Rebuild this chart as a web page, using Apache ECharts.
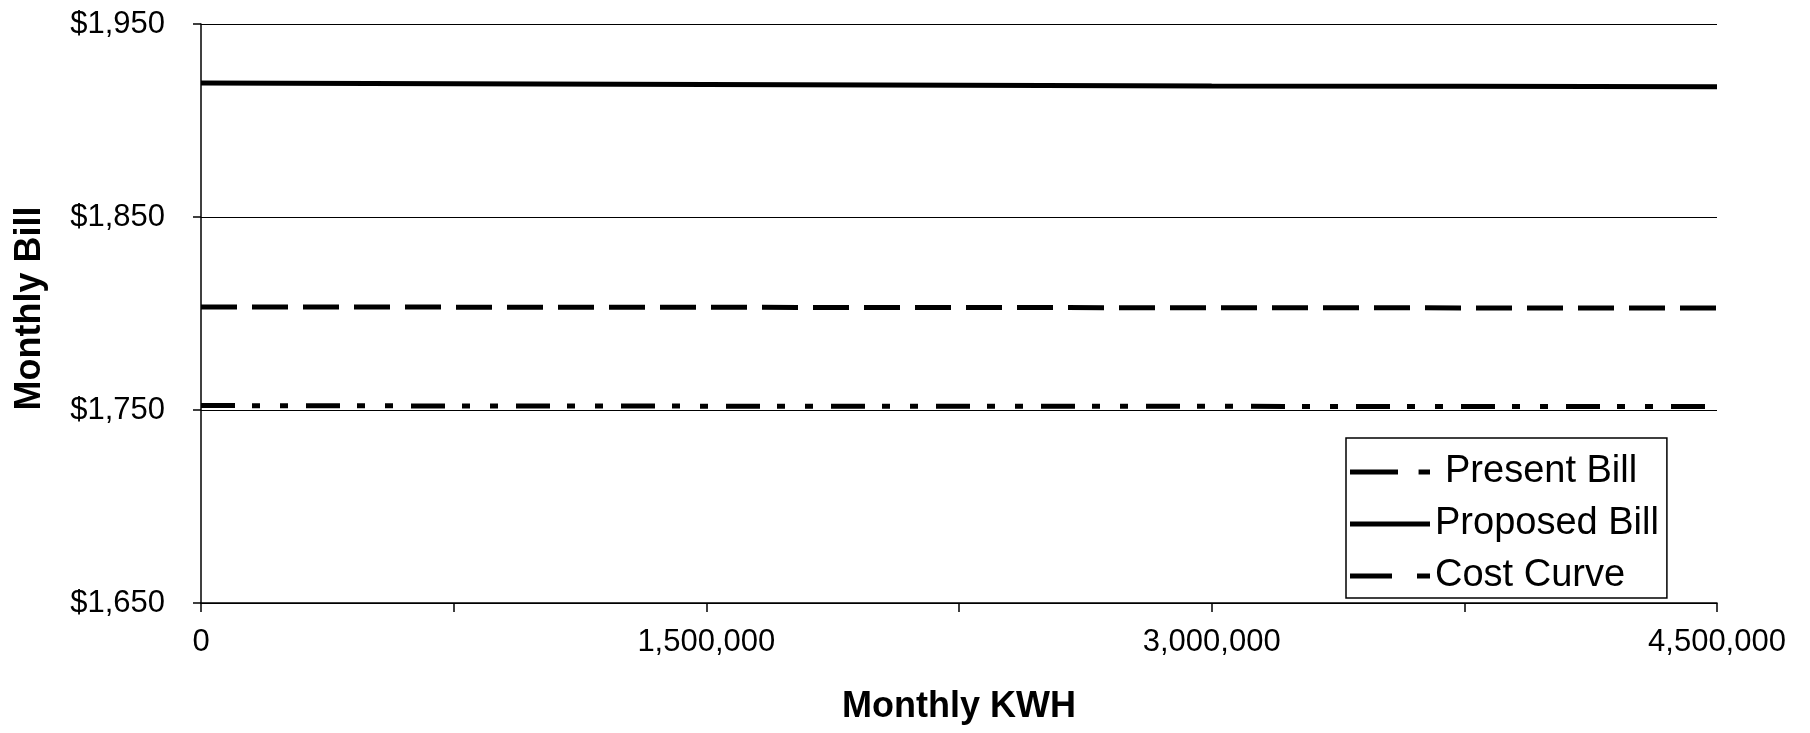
<!DOCTYPE html>
<html>
<head>
<meta charset="utf-8">
<script src="https://cdn.jsdelivr.net/npm/echarts@6/dist/echarts.min.js"></script>
<style>
html,body{margin:0;padding:0;background:#fff;}
#chart{width:1810px;height:733px;}
</style>
</head>
<body>
<div id="chart"></div>
<script>
// Data
const kwh = [0, 750000, 1500000, 2250000, 3000000, 3750000, 4500000];
const presentBill  = [1752.3, 1752.1, 1752.0, 1751.9, 1751.9, 1751.8, 1751.8];
const proposedBill = [1919.4, 1919.1, 1918.7, 1918.3, 1917.9, 1917.7, 1917.5];
const costCurve    = [1803.4, 1803.3, 1803.2, 1803.1, 1803.0, 1802.9, 1802.8];
const seriesNames = ['Present Bill', 'Proposed Bill', 'Cost Curve'];
const yTicks = [1650, 1750, 1850, 1950];
const xLabelStep = 1500000;

const FONT = 'Liberation Sans, Arial, sans-serif';
const pair = (ys) => kwh.map((x, i) => [x, ys[i]]);

// legend icons drawn as dash shapes
const legendIcons = [
  'path://M0,0h42v5h-42zM60,0h10v5h-10z',
  'path://M0,0h80v5h-80z',
  'path://M0,0h42v5h-42zM67,0h13v5h-13z'
];

const chart = echarts.init(document.getElementById('chart'), null, {renderer: 'canvas'});
chart.setOption({
  animation: false,
  backgroundColor: '#fff',
  grid: {left: 201, right: 93, top: 24, bottom: 130, outerBoundsMode: 'none'},
  legend: {
    orient: 'vertical',
    left: 1346, top: 438,
    padding: [15, 8, 3, 4],
    itemWidth: 80, itemHeight: 5, itemGap: 14, itemTextGap: 3,
    symbolKeepAspect: false,
    borderColor: '#000', borderWidth: 1.5,
    backgroundColor: '#fff',
    itemStyle: {color: '#000', borderWidth: 0},
    data: seriesNames.map((n, i) => ({
      name: n,
      icon: legendIcons[i],
      textStyle: i === 0 ? {padding: [0, 0, 0, 10]} : {}
    })),
    textStyle: {fontFamily: FONT, fontSize: 38, color: '#000', lineHeight: 38}
  },
  xAxis: {
    type: 'value',
    min: kwh[0], max: kwh[kwh.length - 1], interval: 750000,
    name: 'Monthly KWH', nameLocation: 'middle', nameGap: 86,
    nameTextStyle: {fontFamily: FONT, fontSize: 36, fontWeight: 'bold', color: '#000'},
    axisLine: {show: true, lineStyle: {color: '#000', width: 1.5}},
    axisTick: {show: true, inside: false, length: 9, lineStyle: {color: '#000', width: 1.5}},
    axisLabel: {
      margin: 24, fontFamily: FONT, fontSize: 31, color: '#000',
      formatter: v => (v % xLabelStep === 0) ? v.toLocaleString('en-US') : ''
    },
    splitLine: {show: false}
  },
  yAxis: {
    type: 'value',
    min: yTicks[0], max: yTicks[yTicks.length - 1], interval: 100,
    name: 'Monthly Bill', nameLocation: 'middle', nameGap: 153,
    nameTextStyle: {fontFamily: FONT, fontSize: 36, fontWeight: 'bold', color: '#000', padding: [0, 0, 0, 10]},
    axisLine: {show: true, lineStyle: {color: '#000', width: 1.5}},
    axisTick: {show: true, inside: false, length: 8, lineStyle: {color: '#000', width: 1.5}},
    axisLabel: {
      margin: 36, fontFamily: FONT, fontSize: 31, color: '#000',
      formatter: v => '$' + v.toLocaleString('en-US')
    },
    splitLine: {show: true, lineStyle: {color: '#000', width: 1.2}}
  },
  series: [
    {
      name: seriesNames[0], type: 'line', data: pair(presentBill),
      symbol: 'none', smooth: false,
      lineStyle: {color: '#000', width: 5, type: [34, 17, 8, 20, 8, 18], cap: 'butt'},
      itemStyle: {color: '#000'}
    },
    {
      name: seriesNames[1], type: 'line', data: pair(proposedBill),
      symbol: 'none',
      lineStyle: {color: '#000', width: 5, type: 'solid'},
      itemStyle: {color: '#000'}
    },
    {
      name: seriesNames[2], type: 'line', data: pair(costCurve),
      symbol: 'none',
      lineStyle: {color: '#000', width: 5, type: [36, 15], cap: 'butt'},
      itemStyle: {color: '#000'}
    }
  ]
});
</script>
</body>
</html>
